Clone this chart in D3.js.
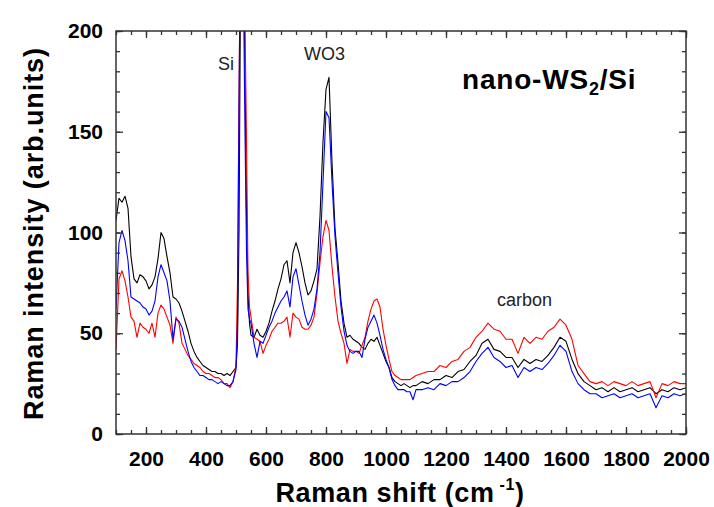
<!DOCTYPE html>
<html>
<head>
<meta charset="utf-8">
<script src="https://cdn.jsdelivr.net/npm/d3@7.9.0/dist/d3.min.js"></script>
<style>
  body { margin: 0; background: #fff; }
  svg { font-family: "Liberation Sans", Arial, sans-serif; }
</style>
</head>
<body>
<svg id="chart" width="714" height="507"></svg>
<script>
// wavenumbers (cm-1) shared by the three spectra
const shift = [
  100,110,120,130,140,150,160,170,180,190,200,210,220,230,240,250,260,270,280,290,
  300,310,320,330,340,350,360,370,380,390,400,410,420,430,440,450,460,470,480,490,
  500,505,510,515,520,525,530,535,540,545,
  550,560,570,580,590,600,610,620,630,640,650,660,670,680,690,700,710,720,730,740,
  750,760,770,780,790,800,810,820,830,840,850,860,870,880,890,900,910,920,930,940,
  950,960,970,980,990,1000,1010,1020,1030,1040,1050,1060,1070,1080,1090,1100,
  1120,1140,1160,1180,1200,1220,1240,1260,1280,1300,1320,1340,1360,1380,1400,1420,1440,1460,1480,1500,
  1520,1540,1560,1580,1600,1620,1640,1660,1680,1700,1720,1740,1760,1780,1800,1820,1840,1860,1880,1900,
  1920,1940,1960,1980,2000
];

const blackSpec = [
  106,117,115,118,112,88,77,75,79,78,76,72,74,78,87,100,97,88,80,68,
  67,65,61,56,51,45,41,38,36,34,33,32,31,31,30,30,29,30,29,31,
  33,45,100,220,260,240,180,110,70,55,
  49,48,52,49,48,51,55,61,66,72,77,84,86,75,90,95,90,83,75,69,
  71,76,82,108,145,171,177,135,102,85,66,55,48,49,47,46,45,43,42,45,
  47,46,48,44,40,36,33,28,26,25,24,25,24,23,24,24,
  26,25,27,27,29,28,31,32,36,39,45,47,42,41,38,38,33,37,35,37,
  36,39,43,48,46,37,30,26,24,22,23,21,23,21,22,23,21,22,23,20,
  22,21,23,22,23
];

const redSpec = [
  42,77,81,76,68,58,56,48,55,53,52,50,55,48,60,64,62,58,54,45,
  58,55,45,42,39,37,35,34,33,31,30,30,29,28,28,27,25,25,23,26,
  34,75,170,240,260,240,205,145,80,63,
  58,48,47,46,40,44,47,51,53,55,55,56,58,48,60,58,57,53,52,52,
  54,58,70,85,98,106,101,83,68,56,50,45,35,42,41,41,40,44,48,56,
  62,66,67,63,52,44,37,31,29,28,27,27,27,27,28,29,
  30,31,31,34,33,36,37,41,43,48,51,55,52,51,47,47,40,48,45,48,
  47,51,53,57,54,47,34,30,26,25,26,24,26,25,24,26,24,25,26,18,
  25,24,26,25,25
];

const blueSpec = [
  62,95,101,96,86,68,67,66,65,63,62,59,61,66,78,84,80,76,66,47,
  57,56,53,47,41,36,33,31,29,29,28,27,27,26,25,26,25,24,24,26,
  32,55,160,260,260,220,150,90,62,57,
  55,45,38,46,45,49,53,56,60,63,66,68,71,63,78,82,74,66,59,54,
  57,62,72,90,125,160,157,125,98,80,63,51,44,41,40,41,41,38,47,53,
  56,59,55,49,42,37,33,27,24,22,22,22,21,21,17,22,
  22,23,22,25,24,26,26,28,31,36,40,43,38,36,33,34,28,33,31,33,
  32,35,39,44,41,31,25,22,20,20,18,19,20,18,19,20,18,19,20,13,
  19,18,20,19,20
];

const xTickValues = [200,400,600,800,1000,1200,1400,1600,1800,2000];
const yTickValues = [0,50,100,150,200];

const series = [
  { name: 'black', color: '#000000', values: blackSpec },
  { name: 'red', color: '#ff0000', values: redSpec },
  { name: 'blue', color: '#0000ff', values: blueSpec }
];

const svg = d3.select('#chart');
const plotL = 116, plotR = 686, plotT = 31, plotB = 434;

const x = d3.scaleLinear().domain([100, 2000]).range([plotL, plotR]);
const y = d3.scaleLinear().domain([0, 200]).range([plotB, plotT]);

svg.append('clipPath').attr('id', 'plot-clip')
  .append('rect')
  .attr('x', plotL).attr('y', plotT)
  .attr('width', plotR - plotL).attr('height', plotB - plotT);

// spectra
const line = d3.line()
  .x((d, i) => x(shift[i]))
  .y(d => y(d));

svg.append('g')
  .attr('clip-path', 'url(#plot-clip)')
  .selectAll('path')
  .data(series)
  .join('path')
  .attr('d', d => line(d.values))
  .attr('fill', 'none')
  .attr('stroke', d => d.color)
  .attr('stroke-width', 1.1)
  .attr('stroke-linejoin', 'round');

// axes (ticks inside)
const axisColor = '#333';
const xMinor = d3.range(100, 2001, 50);
const yMinor = d3.range(0, 201, 10);

function styleAxis(g) {
  g.select('.domain').remove();
  g.selectAll('.tick line').attr('stroke', axisColor).attr('stroke-width', 1.3);
}

// bottom
svg.append('g').attr('transform', `translate(0,${plotB})`)
  .call(d3.axisBottom(x).tickValues(xMinor).tickSize(-4).tickFormat(''))
  .call(styleAxis);
svg.append('g').attr('transform', `translate(0,${plotB})`)
  .call(d3.axisBottom(x).tickValues(xTickValues).tickSize(-7).tickPadding(17).tickFormat(d3.format('d')))
  .call(styleAxis)
  .call(g => g.selectAll('text')
    .attr('font-size', 21).attr('font-weight', 'bold').attr('fill', '#000'));
// top
svg.append('g').attr('transform', `translate(0,${plotT})`)
  .call(d3.axisTop(x).tickValues(xMinor).tickSize(-4).tickFormat(''))
  .call(styleAxis);
svg.append('g').attr('transform', `translate(0,${plotT})`)
  .call(d3.axisTop(x).tickValues(xTickValues).tickSize(-7).tickFormat(''))
  .call(styleAxis);
// left
svg.append('g').attr('transform', `translate(${plotL},0)`)
  .call(d3.axisLeft(y).tickValues(yMinor).tickSize(-4).tickFormat(''))
  .call(styleAxis);
svg.append('g').attr('transform', `translate(${plotL},0)`)
  .call(d3.axisLeft(y).tickValues(yTickValues).tickSize(-7).tickPadding(13).tickFormat(d3.format('d')))
  .call(styleAxis)
  .call(g => g.selectAll('text')
    .attr('font-size', 21).attr('font-weight', 'bold').attr('fill', '#000'));
// right
svg.append('g').attr('transform', `translate(${plotR},0)`)
  .call(d3.axisRight(y).tickValues(yMinor).tickSize(-4).tickFormat(''))
  .call(styleAxis);
svg.append('g').attr('transform', `translate(${plotR},0)`)
  .call(d3.axisRight(y).tickValues(yTickValues).tickSize(-7).tickFormat(''))
  .call(styleAxis);

// frame
svg.append('rect')
  .attr('x', plotL).attr('y', plotT)
  .attr('width', plotR - plotL).attr('height', plotB - plotT)
  .attr('fill', 'none').attr('stroke', axisColor).attr('stroke-width', 1.5);

// axis titles
const xt = svg.append('text')
  .attr('x', 400).attr('y', 502)
  .attr('text-anchor', 'middle')
  .attr('font-size', 27).attr('font-weight', 'bold')
  .attr('letter-spacing', 0.6);
xt.append('tspan').text('Raman shift (cm');
xt.append('tspan').attr('font-size', 16).attr('dx', 5).attr('dy', -12).text('-1');
xt.append('tspan').attr('dy', 12).text(')');

svg.append('text')
  .attr('transform', 'translate(43,234) rotate(-90)')
  .attr('text-anchor', 'middle')
  .attr('font-size', 27).attr('font-weight', 'bold')
  .attr('textLength', 372).attr('lengthAdjust', 'spacing')
  .text('Raman intensity (arb.units)');

// annotations
svg.append('text').attr('x', 218).attr('y', 70)
  .attr('font-size', 18).attr('fill', '#222').text('Si');
svg.append('text').attr('x', 304).attr('y', 60)
  .attr('font-size', 18).attr('fill', '#222').text('WO3');
svg.append('text').attr('x', 497).attr('y', 306)
  .attr('font-size', 18).attr('fill', '#222').text('carbon');

const title = svg.append('text')
  .attr('x', 462).attr('y', 89)
  .attr('font-size', 28).attr('font-weight', 'bold')
  .attr('letter-spacing', 0.8);
title.append('tspan').text('nano-WS');
title.append('tspan').attr('font-size', 18).attr('dy', 6).text('2');
title.append('tspan').attr('dy', -6).text('/Si');
</script>
</body>
</html>
